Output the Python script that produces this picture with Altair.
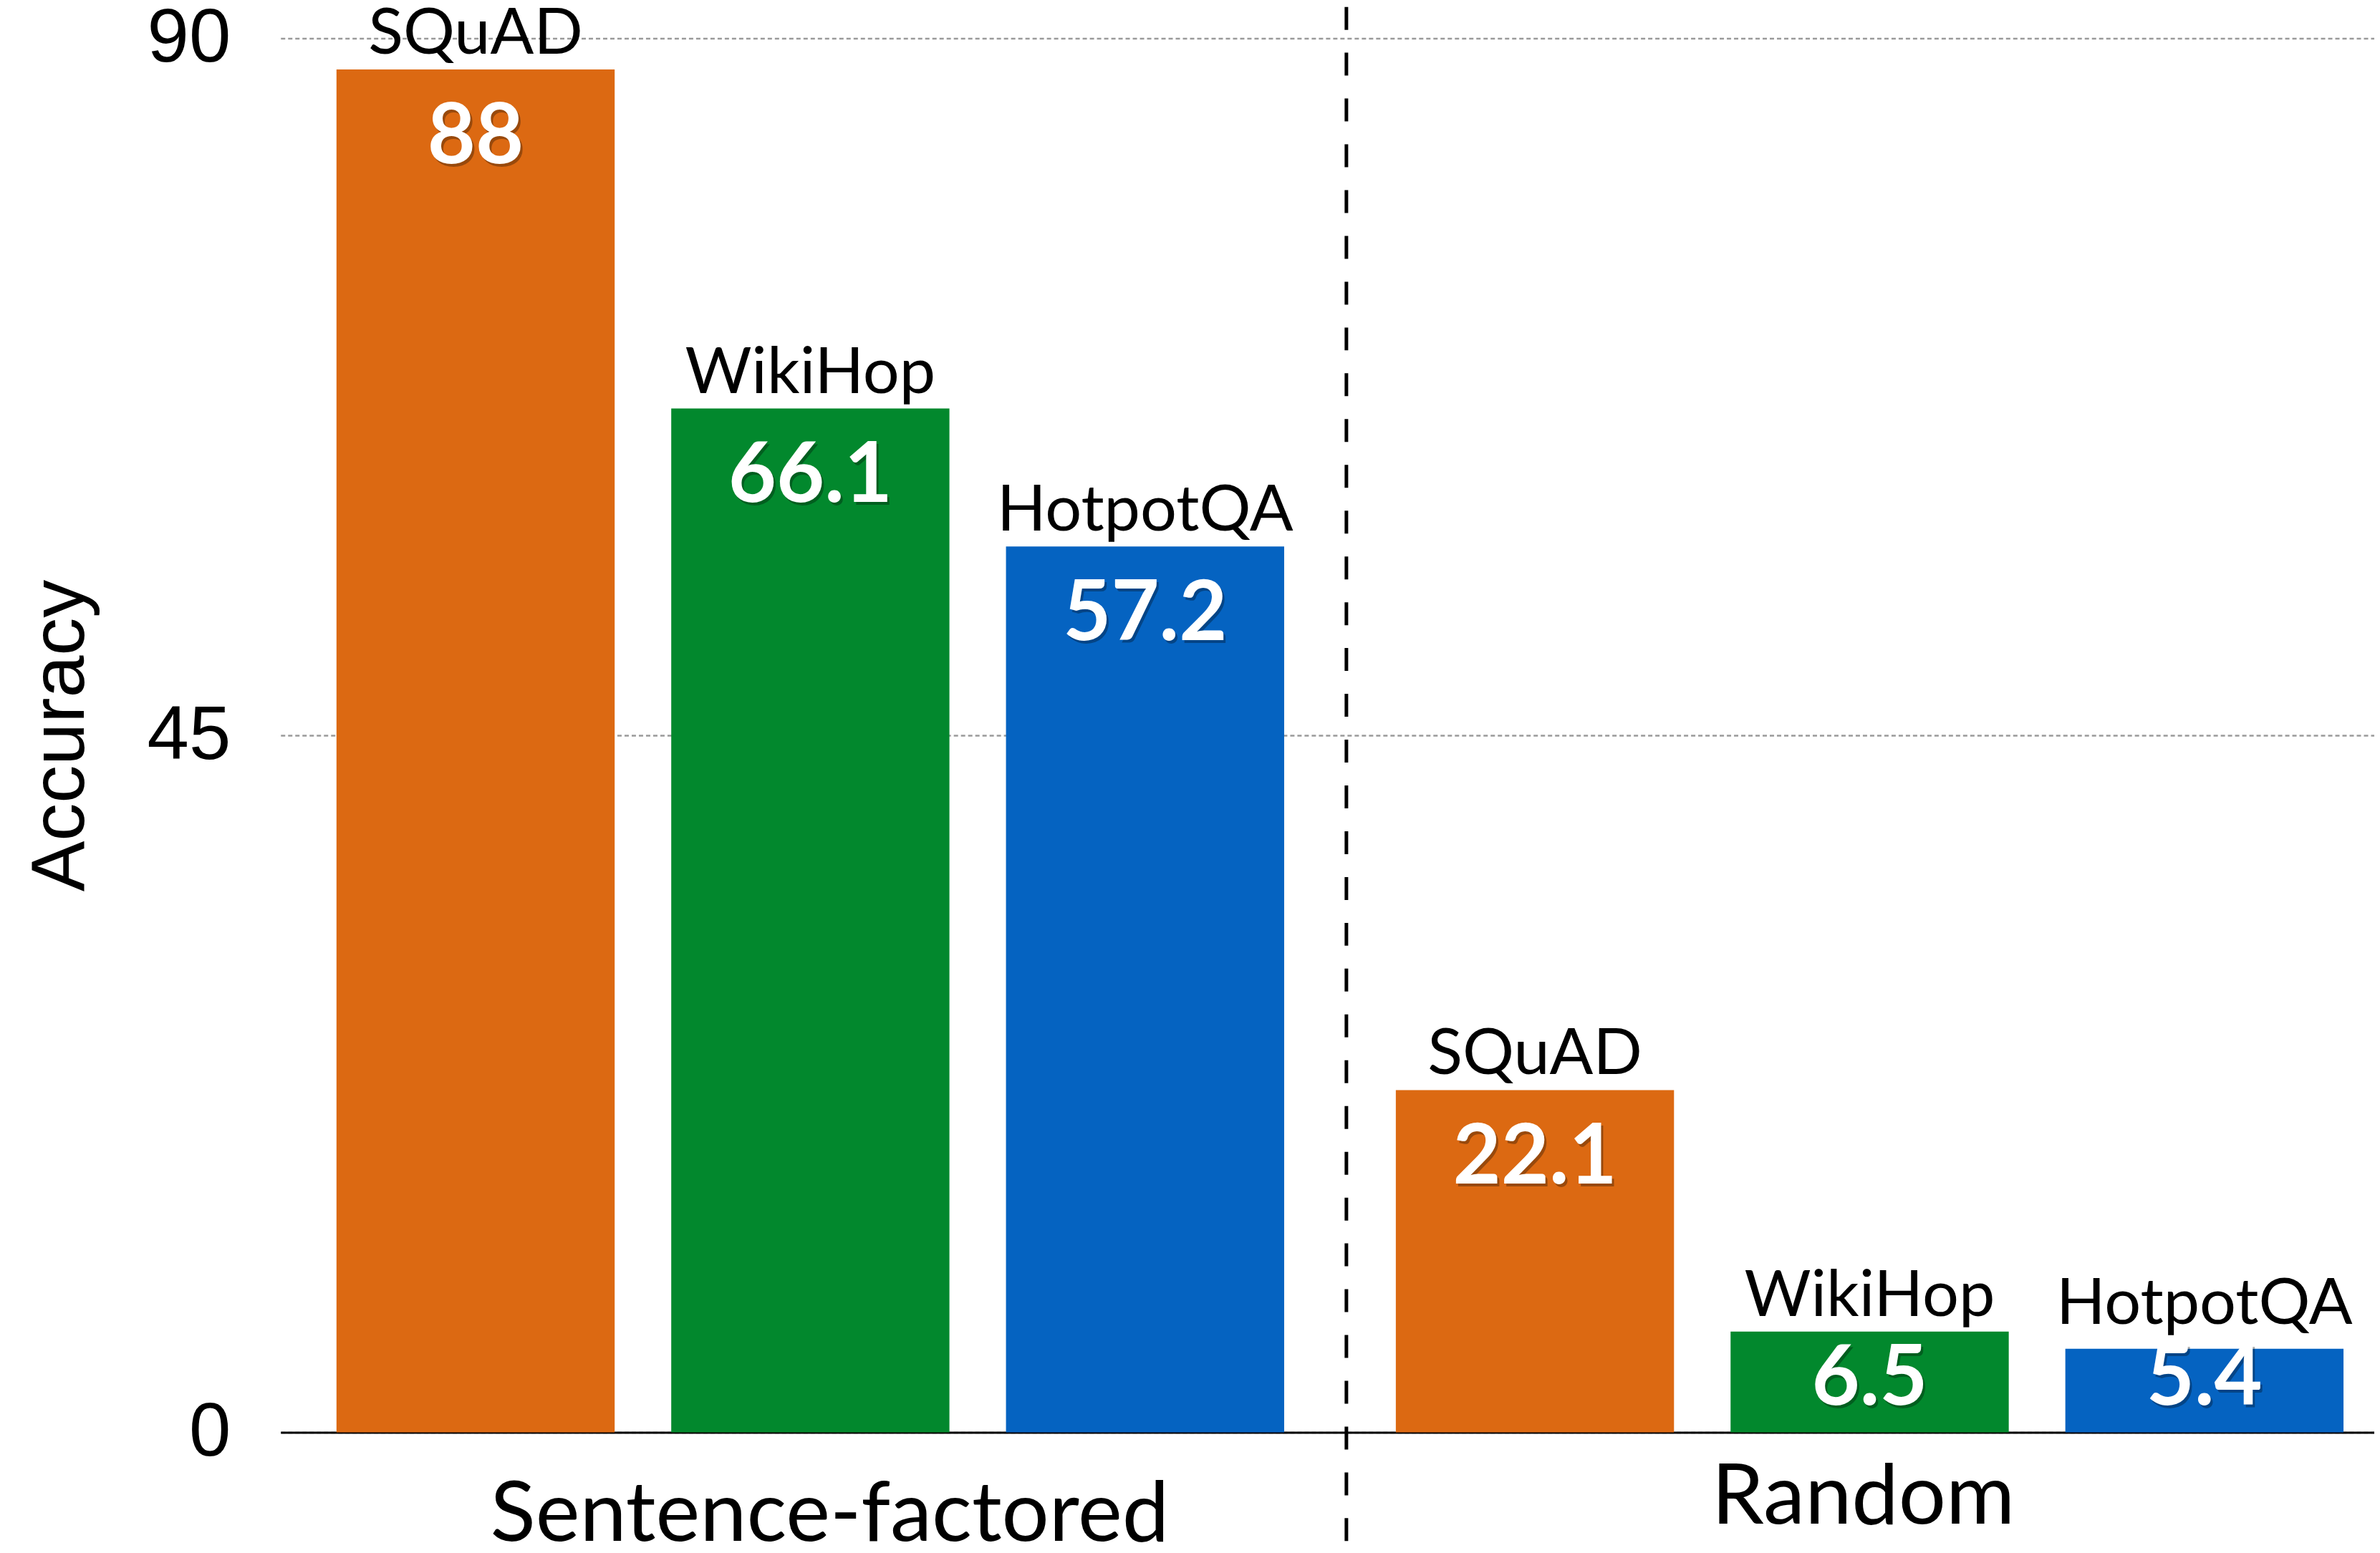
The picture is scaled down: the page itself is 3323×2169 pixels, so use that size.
import altair as alt
import pandas as pd

# ---- data ----
group_order = ["Sentence-factored", "Random"]
dataset_order = ["SQuAD", "WikiHop", "HotpotQA"]
groups = ["Sentence-factored", "Sentence-factored", "Sentence-factored", "Random", "Random", "Random"]
datasets = ["SQuAD", "WikiHop", "HotpotQA", "SQuAD", "WikiHop", "HotpotQA"]
values = [88, 66.1, 57.2, 22.1, 6.5, 5.4]
value_labels = ["88", "66.1", "57.2", "22.1", "6.5", "5.4"]
colors = ["#DC6912", "#02882D", "#0563C1"]
y_ticks = [0, 45, 90]

df = pd.DataFrame({"group": groups, "dataset": datasets, "value": values, "label": value_labels})
gdf = pd.DataFrame({"group": group_order})
one = pd.DataFrame({"k": [0]})

W, H = 2925, 1948
yscale = alt.Scale(domain=[0, 90], nice=False, zero=True)
xscale = alt.Scale(paddingInner=0.1054, paddingOuter=0.0409, align=0.645)
xoscale = alt.Scale(paddingInner=0.169, paddingOuter=0)

x_axis = alt.Axis(title=None, labels=False, ticks=False, domain=True,
                  domainColor="#000000", domainWidth=3, grid=False)
y_axis = alt.Axis(values=y_ticks, title="Accuracy", grid=True, gridColor="#9a9a9a",
                  gridDash=[6, 4], gridWidth=2.5, domain=False, ticks=False,
                  labelFont="Liberation Sans", labelFontSize=105, labelColor="#000000",
                  labelPadding=70, titleFont="Liberation Sans", titleFontSize=106,
                  titleFontWeight="normal", titleColor="#000000", titleAngle=270,
                  titleX=-275, titleY=H / 2, titleBaseline="alphabetic", titleAlign="center")

x_enc = alt.X("group:N", sort=group_order, scale=xscale, axis=x_axis)
xo = alt.XOffset("dataset:N", sort=dataset_order, scale=xoscale)

base = alt.Chart(df)

bars = base.mark_bar().encode(
    x=x_enc,
    xOffset=xo,
    y=alt.Y("value:Q", scale=yscale, axis=y_axis),
    color=alt.Color("dataset:N", sort=dataset_order,
                    scale=alt.Scale(domain=dataset_order, range=colors), legend=None),
)

names = base.transform_calculate(ny="max(datum.value, 6)").mark_text(
    font="Lato", fontSize=90, color="#000000", baseline="alphabetic", align="center", dy=-22
).encode(
    x=x_enc, xOffset=xo,
    y=alt.Y("ny:Q", scale=yscale, axis=y_axis),
    text="dataset:N",
)

vshadow = base.transform_calculate(vy="max(datum.value - 6.05, 1.8)").mark_text(
    font="Lato", fontSize=116, fontWeight="bold", color="#000000", opacity=0.3,
    baseline="alphabetic", align="center", dx=3, dy=4
).encode(
    x=x_enc, xOffset=xo,
    y=alt.Y("vy:Q", scale=yscale, axis=y_axis),
    text="label:N",
)

vlabels = base.transform_calculate(vy="max(datum.value - 6.05, 1.8)").mark_text(
    font="Lato", fontSize=116, fontWeight="bold", color="#FFFFFF",
    baseline="alphabetic", align="center"
).encode(
    x=x_enc, xOffset=xo,
    y=alt.Y("vy:Q", scale=yscale, axis=y_axis),
    text="label:N",
)

glabel1 = alt.Chart(gdf).transform_filter(alt.datum.group == "Sentence-factored").mark_text(
    font="Lato", fontSize=117, color="#000000", baseline="alphabetic", align="center", dx=27
).encode(x=x_enc, y=alt.value(H + 152), text="group:N")

glabel2 = alt.Chart(gdf).transform_filter(alt.datum.group == "Random").mark_text(
    font="Lato", fontSize=117, color="#000000", baseline="alphabetic", align="center", dx=-9
).encode(x=x_enc, y=alt.value(H + 128), text="group:N")

divider = alt.Chart(one).mark_rule(color="#000000", strokeWidth=5, strokeDash=[32, 32]).encode(
    x=alt.value(1489), y=alt.value(-44), y2=alt.value(H + 160)
)

chart = alt.layer(bars, divider, names, vshadow, vlabels, glabel1, glabel2).properties(
    width=W, height=H,
    autosize=alt.AutoSizeParams(type="none"),
    padding={"left": 384, "top": 45, "right": 0, "bottom": 160},
    background="#FFFFFF",
).configure_view(stroke=None)

chart.save("out.html", embed_options={"renderer": "svg", "actions": False})
